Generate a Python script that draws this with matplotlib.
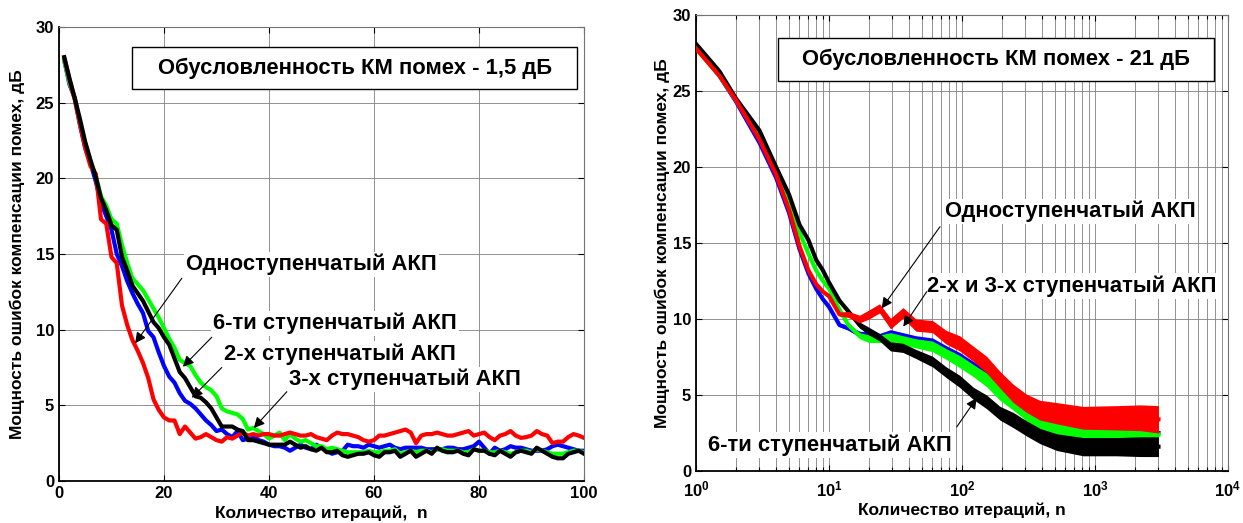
import matplotlib
matplotlib.use('Agg')
import matplotlib.pyplot as plt
from matplotlib.patches import Rectangle
from matplotlib.ticker import MultipleLocator, LogLocator, FuncFormatter, NullFormatter
import numpy as np

# ---------------- шрифты ----------------
plt.rcParams['font.family'] = ['Liberation Sans', 'DejaVu Sans']
plt.rcParams['font.weight'] = 'bold'
plt.rcParams['mathtext.fontset'] = 'custom'
plt.rcParams['mathtext.rm'] = 'Liberation Sans:bold'
plt.rcParams['mathtext.bf'] = 'Liberation Sans:bold'
plt.rcParams['mathtext.it'] = 'Liberation Sans:bold'

# ---------------- данные: левый график (1,5 дБ) ----------------
n_left = np.arange(1, 101)

red_left = [28.0, 26.5, 25.2, 23.6, 22.0, 20.8, 20.3, 17.3, 17.0, 14.8,
            14.4, 11.6, 10.3, 9.3, 8.6, 7.8, 6.8, 5.4, 4.7, 4.2,
            4.0, 4.0, 3.1, 3.6, 3.2, 2.8, 2.9, 3.1, 2.9, 2.7,
            2.6, 2.9, 2.8, 3.0, 3.2, 3.0, 3.1, 3.0, 3.1, 3.1,
            3.0, 3.0, 3.1, 3.2, 3.1, 3.0, 3.0, 3.1, 2.9, 2.8,
            2.7, 3.0, 3.2, 3.1, 3.1, 3.0, 2.9, 2.7, 2.6, 2.7,
            3.0, 3.0, 3.1, 3.2, 3.3, 3.4, 3.2, 2.5, 3.0, 3.1,
            3.1, 3.2, 3.1, 3.0, 3.0, 3.1, 3.2, 3.3, 3.0, 3.1,
            3.2, 2.9, 2.7, 3.0, 3.1, 3.3, 3.0, 2.85, 2.9, 3.0,
            3.3, 3.1, 3.0, 2.5, 2.6, 2.6, 2.9, 3.1, 3.0, 2.85]

blue_left = [27.8, 26.2, 25.3, 23.5, 22.0, 21.0, 19.8, 18.4, 17.5, 16.6,
             15.0, 14.2, 13.2, 12.4, 11.7, 11.1, 9.9, 9.5, 8.5, 7.6,
             6.9, 6.5, 5.8, 5.3, 5.1, 4.8, 4.4, 4.0, 3.7, 3.3,
             3.4, 3.1, 2.9, 3.3, 2.7, 2.8, 3.0, 2.7, 2.6, 2.4,
             2.3, 2.3, 2.2, 2.0, 2.2, 2.4, 2.2, 2.1, 2.4, 2.2,
             2.0, 1.8, 1.9, 2.0, 2.4, 2.3, 2.3, 2.2, 2.4, 2.3,
             2.2, 2.3, 2.4, 2.2, 2.1, 2.2, 2.2, 2.2, 2.2, 2.1,
             2.1, 2.1, 2.1, 2.2, 2.2, 2.1, 2.1, 2.2, 2.3, 2.6,
             2.2, 1.8, 2.2, 2.0, 2.1, 2.3, 2.2, 2.2, 2.1, 2.0,
             2.0, 2.0, 2.1, 2.3, 2.4, 2.3, 2.2, 2.1, 2.0, 2.0]

green_left = [27.8, 26.3, 25.3, 23.6, 22.3, 21.1, 20.2, 18.8, 18.2, 17.3,
              17.0, 15.6, 14.4, 13.4, 13.0, 12.6, 12.0, 11.4, 10.8, 10.1,
              9.4, 8.8, 8.0, 7.8, 7.6, 7.0, 6.5, 6.2, 6.0, 5.6,
              4.8, 4.6, 4.5, 4.4, 4.1, 3.4, 3.5, 3.3, 3.1, 2.8,
              3.0, 3.2, 2.7, 3.1, 2.8, 2.6, 2.7, 2.5, 2.3, 2.3,
              2.1, 2.2, 2.1, 2.0, 1.9, 1.9, 1.9, 1.9, 2.0, 1.9,
              1.9, 2.0, 2.0, 2.1, 1.8, 1.9, 2.0, 1.9, 2.0, 2.0,
              1.9, 2.1, 2.1, 2.0, 2.0, 2.0, 1.9, 1.9, 2.1, 2.0,
              2.0, 1.9, 1.9, 2.0, 1.9, 1.8, 1.9, 2.0, 2.0, 1.9,
              2.1, 2.0, 1.9, 1.8, 1.8, 1.8, 1.9, 2.0, 2.0, 1.9]

black_left = [28.0, 26.6, 25.3, 23.9, 22.4, 21.2, 20.1, 18.7, 17.9, 16.9,
              16.6, 14.8, 13.9, 12.9, 12.4, 11.9, 11.2, 10.5, 10.1, 9.5,
              9.0, 8.1, 7.2, 6.8, 6.2, 5.6, 5.5, 5.2, 4.8, 4.2,
              3.6, 3.6, 3.6, 3.4, 3.3, 2.7, 2.7, 2.6, 2.5, 2.4,
              2.4, 2.4, 2.4, 2.6, 2.4, 2.2, 2.3, 2.1, 2.0, 2.2,
              1.9, 1.9, 2.0, 1.7, 1.6, 1.7, 1.8, 1.8, 1.9, 1.7,
              1.6, 1.9, 1.9, 2.0, 1.6, 1.8, 2.0, 1.6, 1.8, 2.0,
              1.8, 2.2, 2.0, 1.9, 1.9, 2.0, 1.8, 1.7, 2.1, 2.0,
              2.0, 1.8, 1.7, 2.0, 1.8, 1.6, 1.9, 2.0, 1.9, 1.8,
              2.2, 2.0, 1.8, 1.6, 1.5, 1.5, 1.8, 1.9, 2.0, 1.8]

# ---------------- данные: правый график (21 дБ) ----------------
n_right = [1, 1.5, 2, 3, 4, 5, 6, 7, 8, 9, 10, 12, 14, 17, 20, 24, 29, 36, 45,
           60, 76, 96, 122, 153, 193, 243, 306, 386, 515, 814, 1450, 2200, 3000]

red_right = [27.8, 26.0, 24.4, 21.8, 19.5, 17.2, 14.8, 13.2, 12.3, 11.8, 11.5,
             10.3, 10.3, 10.0, 10.3, 10.7, 9.7, 10.4, 9.6, 9.5, 8.8, 8.4,
             7.7, 7.0, 6.0, 5.1, 4.45, 4.0, 3.8, 3.5, 3.5, 3.5, 3.4]
blue_right = [27.9, 26.0, 24.3, 21.6, 19.3, 17.0, 14.6, 13.0, 12.0, 11.3, 10.8,
              9.6, 9.4, 9.0, 8.9, 8.8, 9.0, 8.8, 8.6, 8.4, 7.9, 7.4,
              6.8, 6.2, 5.3, 4.7, 4.0, 3.3, 2.8, 2.6, 2.6, 2.6, 2.5]
green_right = [27.8, 26.0, 24.4, 21.9, 19.8, 17.6, 15.7, 14.3, 13.2, 12.5, 12.0,
               10.6, 9.6, 8.9, 8.7, 8.7, 8.8, 8.6, 8.4, 8.2, 7.7, 7.2,
               6.6, 6.0, 5.1, 4.5, 3.8, 3.15, 2.6, 2.5, 2.5, 2.5, 2.4]
black_right = [28.1, 26.3, 24.5, 22.4, 20.0, 18.2, 16.2, 15.2, 13.9, 13.2, 12.4,
               11.2, 10.5, 9.6, 9.2, 8.8, 8.2, 8.1, 7.7, 7.2, 6.5, 5.9,
               5.1, 4.55, 3.8, 3.35, 2.8, 2.3, 1.9, 1.6, 1.6, 1.6, 1.6]

# разброс (шум) вокруг кривых
spread_red = [0, 0, 0, 0, 0, 0, 0, 0, 0, 0, 0,
              0.1, 0.2, 0.25, 0.3, 0.3, 0.35, 0.35, 0.4, 0.4, 0.45, 0.5,
              0.5, 0.55, 0.55, 0.6, 0.6, 0.65, 0.7, 0.75, 0.8, 0.85, 0.9]
spread_other = [0, 0, 0, 0, 0, 0, 0, 0, 0, 0, 0,
                0.1, 0.15, 0.2, 0.25, 0.25, 0.3, 0.3, 0.3, 0.35, 0.35, 0.4,
                0.4, 0.45, 0.45, 0.5, 0.5, 0.5, 0.55, 0.6, 0.6, 0.65, 0.65]

title_left = 'Обусловленность КМ помех - 1,5 дБ'
title_right = 'Обусловленность КМ помех - 21 дБ'
ylabel = 'Мощность ошибок компенсации помех, дБ'

RED, BLUE, GREEN, BLACK = '#ff0000', '#0000ff', '#00ff00', '#000000'
LW = 3.0
FS_LABEL = 15.8


def style_axes(ax):
    ax.tick_params(which='both', direction='in', top=True, right=True,
                   labelsize=12, width=0.8)
    ax.tick_params(which='major', length=4)
    ax.tick_params(which='minor', length=3)
    for s in ('left', 'bottom'):
        ax.spines[s].set_linewidth(1.3)
        ax.spines[s].set_color('k')
    for s in ('top', 'right'):
        ax.spines[s].set_linewidth(0.8)
        ax.spines[s].set_color('0.45')
    for lab in ax.get_xticklabels() + ax.get_yticklabels():
        lab.set_fontweight('bold')


def title_box(ax, x0, y0, x1, y1, text):
    ax.add_patch(Rectangle((x0, y0), x1 - x0, y1 - y0, transform=ax.transAxes,
                           facecolor='white', edgecolor='k', lw=1.0, zorder=5))
    ax.text((x0 + x1) / 2, (y0 + y1) / 2, text, transform=ax.transAxes,
            ha='center', va='center', fontsize=FS_LABEL, fontweight='bold', zorder=6)


def label_arrow(ax, text, txt_xy, tail, tip):
    ax.text(txt_xy[0], txt_xy[1], text, ha='left', va='center', fontsize=FS_LABEL,
            fontweight='bold', zorder=7,
            bbox=dict(facecolor='white', edgecolor='none', pad=1.5))
    ax.annotate('', xy=tip, xytext=tail, zorder=8,
                arrowprops=dict(arrowstyle='-|>', color='k', lw=0.8,
                                mutation_scale=16, shrinkA=0, shrinkB=0))


fig = plt.figure(figsize=(12.43, 5.23), dpi=100)

# ---------------- левый график ----------------
ax1 = fig.add_axes([59 / 1243, 42 / 523, 525 / 1243, 454 / 523])
ax1.grid(True, color='0.5', lw=0.6)
ax1.set_axisbelow(True)
ax1.plot(n_left, blue_left, color=BLUE, lw=LW, zorder=3)
ax1.plot(n_left, green_left, color=GREEN, lw=LW, zorder=3)
ax1.plot(n_left, red_left, color=RED, lw=LW, zorder=3)
ax1.plot(n_left, black_left, color=BLACK, lw=LW, zorder=3)
ax1.set_xlim(0, 100)
ax1.set_ylim(0, 30)
ax1.xaxis.set_major_locator(MultipleLocator(20))
ax1.yaxis.set_major_locator(MultipleLocator(5))
ax1.set_xlabel('Количество итераций,  n', fontsize=12.5, fontweight='bold', labelpad=3)
ax1.set_ylabel(ylabel, fontsize=12.5, fontweight='bold', labelpad=8)
style_axes(ax1)

title_box(ax1, 0.139, 0.863, 0.987, 0.956, title_left)
label_arrow(ax1, 'Одноступенчатый АКП', (24.2, 14.3), (23.4, 13.4), (14.5, 9.1))
label_arrow(ax1, '6-ти ступенчатый АКП', (29.4, 10.4), (29.1, 9.5), (23.6, 7.55))
label_arrow(ax1, '2-х ступенчатый АКП', (31.4, 8.4), (31.0, 7.5), (25.3, 5.5))
label_arrow(ax1, '3-х ступенчатый АКП', (43.8, 6.7), (43.4, 5.9), (37.1, 3.5))

# ---------------- правый график ----------------
ax2 = fig.add_axes([696 / 1243, 52 / 523, 532 / 1243, 456 / 523])
ax2.set_xscale('log')
ax2.grid(True, which='major', color='0.5', lw=0.6)
ax2.grid(True, which='minor', axis='x', color='0.5', lw=0.6)
ax2.set_axisbelow(True)

series_right = [(blue_right, spread_other, BLUE), (green_right, spread_other, GREEN),
                (black_right, spread_other, BLACK), (red_right, spread_red, RED)]
for vals, spr, col in series_right:
    v = np.array(vals)
    s = np.array(spr)
    ax2.fill_between(n_right, v - s, v + s, color=col, lw=0, zorder=3)
    ax2.plot(n_right, v, color=col, lw=LW, zorder=3)

ax2.set_xlim(1, 1e4)
ax2.set_ylim(0, 30)
ax2.yaxis.set_major_locator(MultipleLocator(5))
ax2.xaxis.set_major_locator(LogLocator(base=10, numticks=10))
ax2.xaxis.set_minor_locator(LogLocator(base=10, subs=np.arange(2, 10), numticks=50))
ax2.xaxis.set_major_formatter(FuncFormatter(lambda x, p: r'$\mathbf{10^{%d}}$' % round(np.log10(x))))
ax2.xaxis.set_minor_formatter(NullFormatter())
ax2.set_xlabel('Количество итераций, n', fontsize=12.5, fontweight='bold', labelpad=2)
ax2.set_ylabel(ylabel, fontsize=12.5, fontweight='bold', labelpad=2)
style_axes(ax2)
ax2.tick_params(axis='x', which='major', pad=6)

title_box(ax2, 0.154, 0.855, 0.974, 0.950, title_right)
label_arrow(ax2, 'Одноступенчатый АКП', (74.5, 17.06), (68.3, 16.07), (24.9, 10.7))
label_arrow(ax2, '2-х и 3-х ступенчатый АКП', (54.3, 12.17), (54.3, 11.8), (36.2, 9.5))
label_arrow(ax2, '6-ти ступенчатый АКП', (1.23, 1.71), (91.3, 2.9), (129, 4.8))

fig.savefig('out.png', dpi=100)
